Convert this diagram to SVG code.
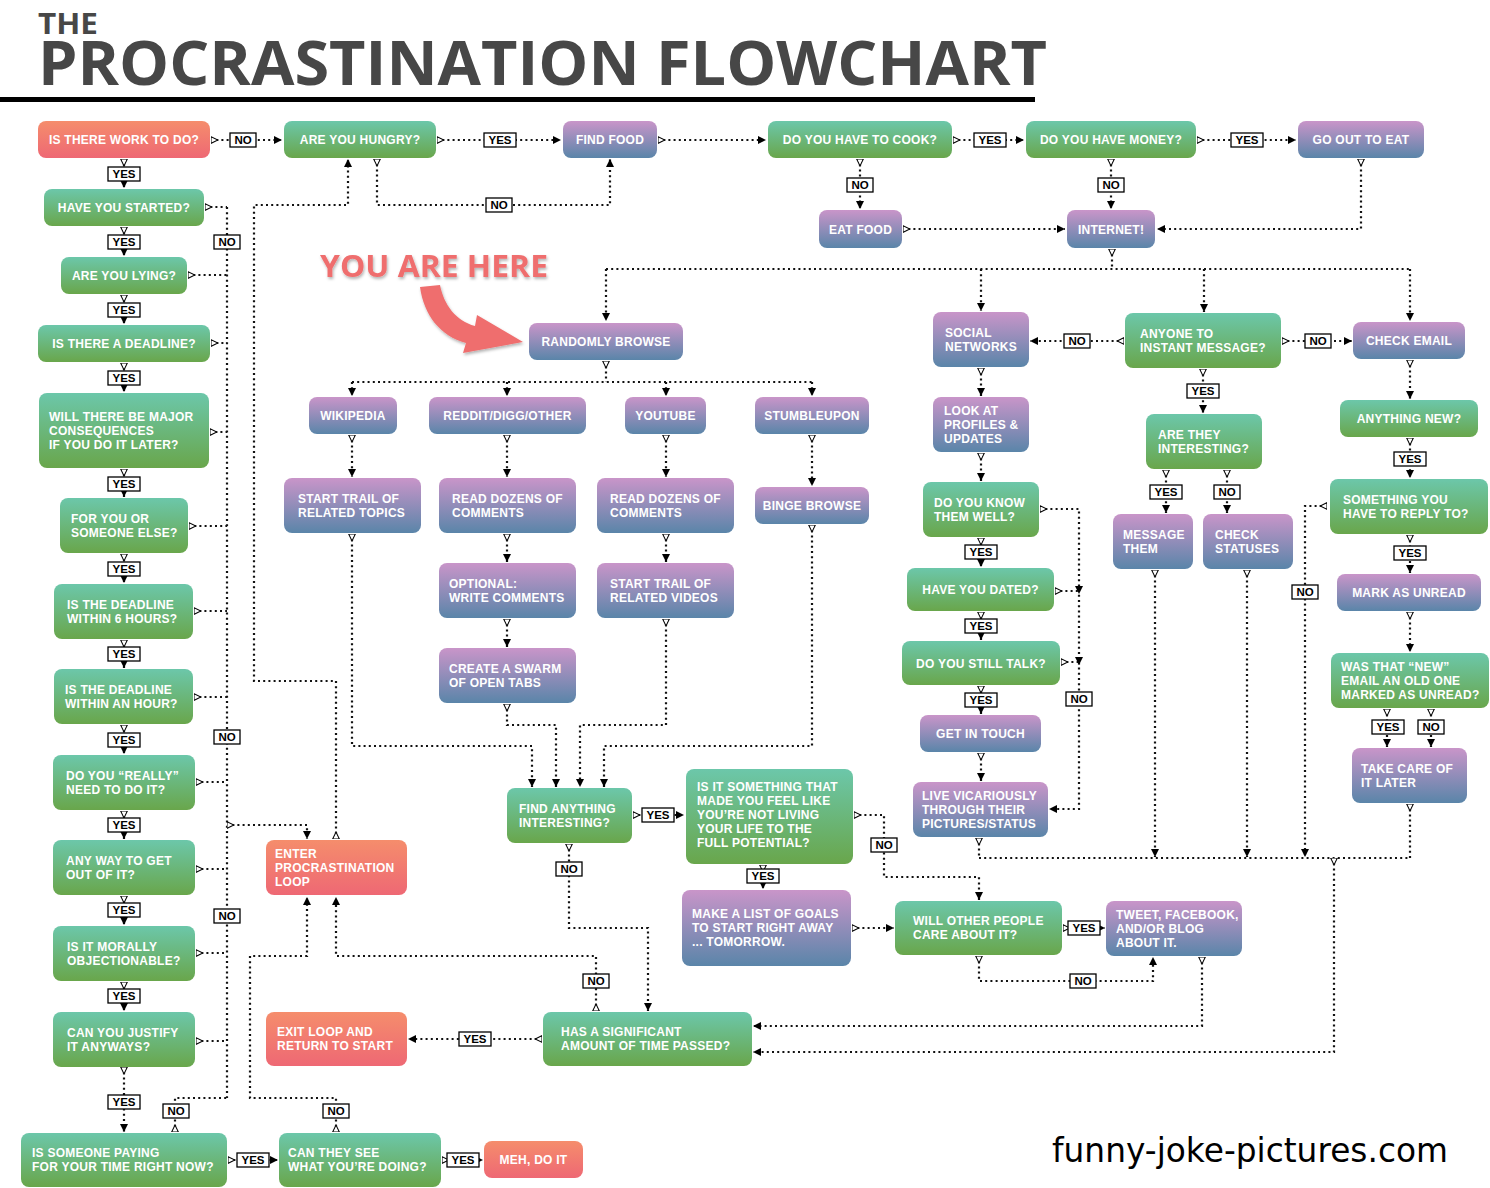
<svg xmlns="http://www.w3.org/2000/svg" width="1490" height="1188" viewBox="0 0 1490 1188">
<defs>
<linearGradient id="gg" x1="0" y1="0" x2="0" y2="1"><stop offset="0" stop-color="#6cc7aa"/><stop offset="1" stop-color="#69a64b"/></linearGradient>
<linearGradient id="gp" x1="0" y1="0" x2="0" y2="1"><stop offset="0" stop-color="#c995c9"/><stop offset="1" stop-color="#5a85a9"/></linearGradient>
<linearGradient id="gr" x1="0" y1="0" x2="0" y2="1"><stop offset="0" stop-color="#f58d6c"/><stop offset="1" stop-color="#ee6874"/></linearGradient>
<marker id="ms" viewBox="0 0 10 10" refX="0.6" refY="5" markerWidth="8" markerHeight="8" markerUnits="userSpaceOnUse" orient="auto"><path d="M0.6,0.8 L9.2,5 L0.6,9.2 Z" fill="#fff" stroke="#000" stroke-width="1.3"/></marker>
<marker id="me" viewBox="0 0 10 10" refX="10" refY="5" markerWidth="8" markerHeight="8" markerUnits="userSpaceOnUse" orient="auto"><path d="M0,0 L10,5 L0,10 Z" fill="#000"/></marker>
<filter id="sh" x="-10%" y="-20%" width="120%" height="150%"><feDropShadow dx="1" dy="2" stdDeviation="1.5" flood-color="#000" flood-opacity="0.3"/></filter>
</defs>
<style>
.G{fill:url(#gg)}.P{fill:url(#gp)}.R{fill:url(#gr)}
.t{font-family:"Liberation Sans",Arial,sans-serif;font-weight:700;font-size:12px;fill:#fff;letter-spacing:0.25px}
.m{text-anchor:middle}
.c{fill:none;stroke:#111;stroke-width:2.2;stroke-dasharray:2 3.2}
.b{marker-start:url(#ms);marker-end:url(#me)}
.s{marker-start:url(#ms)}
.e{marker-end:url(#me)}
.lb rect{fill:#fff;stroke:#000;stroke-width:1.3}
.lb text{font-family:"Liberation Sans",Arial,sans-serif;font-weight:700;font-size:11.5px;text-anchor:middle;fill:#000}
.title{font-family:"Open Sans","DejaVu Sans",sans-serif;font-weight:700;fill:#474747}
</style>
<rect width="1490" height="1188" fill="#fff"/>
<g id="title">
<text class="title" x="38" y="34" font-size="29" textLength="60" lengthAdjust="spacingAndGlyphs">THE</text>
<text class="title" x="38" y="85" font-size="60" textLength="1009" lengthAdjust="spacingAndGlyphs">PROCRASTINATION FLOWCHART</text>
<rect x="0" y="97" width="1035" height="5" fill="#000"/>
</g>
<g id="you-are-here" filter="url(#sh)">
<text x="320" y="277" font-family="'Open Sans','DejaVu Sans',sans-serif" font-weight="700" font-size="31" fill="#ef6e6e" textLength="228" lengthAdjust="spacingAndGlyphs">YOU ARE HERE</text>
<path d="M420 287 C424 315 440 336 466 343 L463 353 L523 342 L477 315 L475 326 C456 321 444 305 440 285 Z" fill="#ef6e6e"/>
</g>
<g id="connectors">
<path class="c b" d="M211 140 H282"/>
<path class="c b" d="M437 140 H561"/>
<path class="c b" d="M658 140 H766"/>
<path class="c b" d="M953 140 H1024"/>
<path class="c b" d="M1197 140 H1296"/>
<path class="c b" d="M377 159 V205 H610 V159"/>
<path class="c b" d="M860 159 V209"/>
<path class="c b" d="M1111 159 V209"/>
<path class="c b" d="M903 229 H1065"/>
<path class="c b" d="M1361 159 V229 H1157"/>
<path class="c s" d="M1112 249 V269"/>
<path class="c" d="M606 269 H1410"/>
<path class="c e" d="M606 269 V321"/>
<path class="c e" d="M981 269 V311"/>
<path class="c e" d="M1204 269 V312"/>
<path class="c e" d="M1410 269 V321"/>
<path class="c s" d="M606 361 V382"/>
<path class="c" d="M352 382 H812"/>
<path class="c e" d="M352 382 V396"/>
<path class="c e" d="M507 382 V396"/>
<path class="c e" d="M666 382 V396"/>
<path class="c e" d="M812 382 V396"/>
<path class="c b" d="M352 435 V477"/>
<path class="c b" d="M507 435 V477"/>
<path class="c b" d="M666 435 V477"/>
<path class="c b" d="M812 435 V486"/>
<path class="c b" d="M507 534 V562"/>
<path class="c b" d="M507 619 V647"/>
<path class="c b" d="M666 534 V562"/>
<path class="c b" d="M352 534 V746 H532 V787"/>
<path class="c b" d="M507 704 V725 H556 V787"/>
<path class="c b" d="M666 619 V725 H580 V787"/>
<path class="c b" d="M812 525 V746 H604 V787"/>
<path class="c b" d="M633 815 H684"/>
<path class="c b" d="M569 844 V928 H648 V1011"/>
<path class="c b" d="M763 865 V889"/>
<path class="c b" d="M854 815 H884 V877 H979 V900"/>
<path class="c b" d="M852 928 H894"/>
<path class="c b" d="M1063 928 H1105"/>
<path class="c b" d="M979 956 V981 H1153 V957"/>
<path class="c b" d="M1202 957 V1026 H753"/>
<path class="c s" d="M979 838 V858"/>
<path class="c s" d="M1410 804 V858"/>
<path class="c" d="M979 858 H1410"/>
<path class="c b" d="M1155 570 V857"/>
<path class="c b" d="M1247 570 V857"/>
<path class="c b" d="M1327 506 H1305 V857"/>
<path class="c b" d="M1334 858 V1052 H753"/>
<path class="c b" d="M1124 341 H1030"/>
<path class="c b" d="M1282 341 H1352"/>
<path class="c b" d="M1203 369 V413"/>
<path class="c b" d="M1166 470 V513"/>
<path class="c b" d="M1227 470 V513"/>
<path class="c b" d="M981 368 V396"/>
<path class="c b" d="M981 453 V481"/>
<path class="c b" d="M981 538 V567"/>
<path class="c b" d="M981 612 V640"/>
<path class="c b" d="M981 686 V714"/>
<path class="c b" d="M981 753 V781"/>
<path class="c b" d="M1040 509 H1079 V809 H1049"/>
<path class="c s" d="M1055 591 H1079"/>
<path class="c s" d="M1061 662 H1079"/>
<polygon points="1075,586 1083,586 1079,594" fill="#000"/>
<polygon points="1075,657 1083,657 1079,665" fill="#000"/>
<path class="c b" d="M1410 360 V399"/>
<path class="c b" d="M1410 438 V478"/>
<path class="c b" d="M1410 535 V573"/>
<path class="c b" d="M1410 612 V652"/>
<path class="c b" d="M1387 709 V747"/>
<path class="c b" d="M1431 709 V747"/>
<path class="c b" d="M124 159 V188"/>
<path class="c b" d="M124 227 V256"/>
<path class="c b" d="M124 295 V324"/>
<path class="c b" d="M124 363 V392"/>
<path class="c b" d="M124 469 V497"/>
<path class="c b" d="M124 554 V583"/>
<path class="c b" d="M124 640 V668"/>
<path class="c b" d="M124 725 V754"/>
<path class="c b" d="M124 811 V839"/>
<path class="c b" d="M124 896 V925"/>
<path class="c b" d="M124 982 V1011"/>
<path class="c b" d="M124 1067 V1132"/>
<path class="c" d="M227 207 V1098"/>
<path class="c s" d="M205 207 H227"/>
<path class="c s" d="M188 275 H227"/>
<path class="c s" d="M211 343 H227"/>
<path class="c s" d="M210 432 H227"/>
<path class="c s" d="M189 526 H227"/>
<path class="c s" d="M194 611 H227"/>
<path class="c s" d="M194 697 H227"/>
<path class="c s" d="M196 782 H227"/>
<path class="c s" d="M196 869 H227"/>
<path class="c s" d="M196 953 H227"/>
<path class="c s" d="M196 1041 H227"/>
<path class="c s" d="M175 1132 V1098 H227"/>
<path class="c b" d="M227 825 H307 V839"/>
<path class="c b" d="M336 839 V681 H254 V205 H348 V159"/>
<path class="c b" d="M596 1011 V956 H336 V897"/>
<path class="c b" d="M336 1132 V1098 H250 V956 H307 V897"/>
<path class="c b" d="M542 1039 H408"/>
<path class="c b" d="M228 1160 H278"/>
<path class="c b" d="M442 1160 H483"/>
<g class="lb">
<rect x="230" y="133" width="26" height="14"/><text x="243" y="144.3">NO</text>
<rect x="484" y="133" width="32" height="14"/><text x="500" y="144.3">YES</text>
<rect x="974" y="133" width="32" height="14"/><text x="990" y="144.3">YES</text>
<rect x="1231" y="133" width="32" height="14"/><text x="1247" y="144.3">YES</text>
<rect x="486" y="198" width="26" height="14"/><text x="499" y="209.3">NO</text>
<rect x="847" y="178" width="26" height="14"/><text x="860" y="189.3">NO</text>
<rect x="1098" y="178" width="26" height="14"/><text x="1111" y="189.3">NO</text>
<rect x="108" y="167" width="32" height="14"/><text x="124" y="178.3">YES</text>
<rect x="108" y="235" width="32" height="14"/><text x="124" y="246.3">YES</text>
<rect x="108" y="303" width="32" height="14"/><text x="124" y="314.3">YES</text>
<rect x="108" y="371" width="32" height="14"/><text x="124" y="382.3">YES</text>
<rect x="108" y="477" width="32" height="14"/><text x="124" y="488.3">YES</text>
<rect x="108" y="562" width="32" height="14"/><text x="124" y="573.3">YES</text>
<rect x="108" y="647" width="32" height="14"/><text x="124" y="658.3">YES</text>
<rect x="108" y="733" width="32" height="14"/><text x="124" y="744.3">YES</text>
<rect x="108" y="818" width="32" height="14"/><text x="124" y="829.3">YES</text>
<rect x="108" y="903" width="32" height="14"/><text x="124" y="914.3">YES</text>
<rect x="108" y="989" width="32" height="14"/><text x="124" y="1000.3">YES</text>
<rect x="108" y="1095" width="32" height="14"/><text x="124" y="1106.3">YES</text>
<rect x="214" y="235" width="26" height="14"/><text x="227" y="246.3">NO</text>
<rect x="214" y="730" width="26" height="14"/><text x="227" y="741.3">NO</text>
<rect x="214" y="909" width="26" height="14"/><text x="227" y="920.3">NO</text>
<rect x="163" y="1104" width="26" height="14"/><text x="176" y="1115.3">NO</text>
<rect x="323" y="1104" width="26" height="14"/><text x="336" y="1115.3">NO</text>
<rect x="583" y="974" width="26" height="14"/><text x="596" y="985.3">NO</text>
<rect x="459" y="1032" width="32" height="14"/><text x="475" y="1043.3">YES</text>
<rect x="237" y="1153" width="32" height="14"/><text x="253" y="1164.3">YES</text>
<rect x="447" y="1153" width="32" height="14"/><text x="463" y="1164.3">YES</text>
<rect x="642" y="808" width="32" height="14"/><text x="658" y="819.3">YES</text>
<rect x="556" y="862" width="26" height="14"/><text x="569" y="873.3">NO</text>
<rect x="747" y="869" width="32" height="14"/><text x="763" y="880.3">YES</text>
<rect x="871" y="838" width="26" height="14"/><text x="884" y="849.3">NO</text>
<rect x="1068" y="921" width="32" height="14"/><text x="1084" y="932.3">YES</text>
<rect x="1070" y="974" width="26" height="14"/><text x="1083" y="985.3">NO</text>
<rect x="1064" y="334" width="26" height="14"/><text x="1077" y="345.3">NO</text>
<rect x="1305" y="334" width="26" height="14"/><text x="1318" y="345.3">NO</text>
<rect x="1187" y="384" width="32" height="14"/><text x="1203" y="395.3">YES</text>
<rect x="1150" y="485" width="32" height="14"/><text x="1166" y="496.3">YES</text>
<rect x="1214" y="485" width="26" height="14"/><text x="1227" y="496.3">NO</text>
<rect x="965" y="545" width="32" height="14"/><text x="981" y="556.3">YES</text>
<rect x="965" y="619" width="32" height="14"/><text x="981" y="630.3">YES</text>
<rect x="965" y="693" width="32" height="14"/><text x="981" y="704.3">YES</text>
<rect x="1066" y="692" width="26" height="14"/><text x="1079" y="703.3">NO</text>
<rect x="1394" y="452" width="32" height="14"/><text x="1410" y="463.3">YES</text>
<rect x="1394" y="546" width="32" height="14"/><text x="1410" y="557.3">YES</text>
<rect x="1292" y="585" width="26" height="14"/><text x="1305" y="596.3">NO</text>
<rect x="1372" y="720" width="32" height="14"/><text x="1388" y="731.3">YES</text>
<rect x="1418" y="720" width="26" height="14"/><text x="1431" y="731.3">NO</text>
</g>
</g>
<g id="n-work"><rect class="R" x="38" y="121" width="172" height="37" rx="8"/><text class="t m" x="124" y="144">IS THERE WORK TO DO?</text></g>
<g id="n-started"><rect class="G" x="44" y="189" width="160" height="37" rx="8"/><text class="t m" x="124" y="212">HAVE YOU STARTED?</text></g>
<g id="n-lying"><rect class="G" x="61" y="257" width="126" height="37" rx="8"/><text class="t m" x="124" y="280">ARE YOU LYING?</text></g>
<g id="n-deadline"><rect class="G" x="38" y="325" width="172" height="37" rx="8"/><text class="t m" x="124" y="348">IS THERE A DEADLINE?</text></g>
<g id="n-consequences"><rect class="G" x="39" y="393" width="170" height="75" rx="8"/><text class="t"><tspan x="49" y="420.5">WILL THERE BE MAJOR</tspan><tspan x="49" y="434.5">CONSEQUENCES</tspan><tspan x="49" y="448.5">IF YOU DO IT LATER?</tspan></text></g>
<g id="n-foryou"><rect class="G" x="60" y="498" width="128" height="55" rx="8"/><text class="t"><tspan x="71" y="522.5">FOR YOU OR</tspan><tspan x="71" y="536.5">SOMEONE ELSE?</tspan></text></g>
<g id="n-within6"><rect class="G" x="54" y="584" width="139" height="55" rx="8"/><text class="t"><tspan x="67" y="608.5">IS THE DEADLINE</tspan><tspan x="67" y="622.5">WITHIN 6 HOURS?</tspan></text></g>
<g id="n-withinhour"><rect class="G" x="54" y="669" width="139" height="55" rx="8"/><text class="t"><tspan x="65" y="693.5">IS THE DEADLINE</tspan><tspan x="65" y="707.5">WITHIN AN HOUR?</tspan></text></g>
<g id="n-really"><rect class="G" x="53" y="755" width="142" height="55" rx="8"/><text class="t"><tspan x="66" y="779.5">DO YOU “REALLY”</tspan><tspan x="66" y="793.5">NEED TO DO IT?</tspan></text></g>
<g id="n-getout"><rect class="G" x="53" y="840" width="142" height="55" rx="8"/><text class="t"><tspan x="66" y="864.5">ANY WAY TO GET</tspan><tspan x="66" y="878.5">OUT OF IT?</tspan></text></g>
<g id="n-morally"><rect class="G" x="53" y="926" width="142" height="55" rx="8"/><text class="t"><tspan x="67" y="950.5">IS IT MORALLY</tspan><tspan x="67" y="964.5">OBJECTIONABLE?</tspan></text></g>
<g id="n-justify"><rect class="G" x="53" y="1012" width="142" height="55" rx="8"/><text class="t"><tspan x="67" y="1036.5">CAN YOU JUSTIFY</tspan><tspan x="67" y="1050.5">IT ANYWAYS?</tspan></text></g>
<g id="n-paying"><rect class="G" x="21" y="1133" width="206" height="54" rx="8"/><text class="t"><tspan x="32" y="1157">IS SOMEONE PAYING</tspan><tspan x="32" y="1171">FOR YOUR TIME RIGHT NOW?</tspan></text></g>
<g id="n-hungry"><rect class="G" x="284" y="121" width="152" height="37" rx="8"/><text class="t m" x="360" y="144">ARE YOU HUNGRY?</text></g>
<g id="n-findfood"><rect class="P" x="563" y="121" width="94" height="37" rx="8"/><text class="t m" x="610" y="144">FIND FOOD</text></g>
<g id="n-cook"><rect class="G" x="768" y="121" width="184" height="37" rx="8"/><text class="t m" x="860" y="144">DO YOU HAVE TO COOK?</text></g>
<g id="n-money"><rect class="G" x="1026" y="121" width="170" height="37" rx="8"/><text class="t m" x="1111" y="144">DO YOU HAVE MONEY?</text></g>
<g id="n-goout"><rect class="P" x="1298" y="121" width="126" height="37" rx="8"/><text class="t m" x="1361" y="144">GO OUT TO EAT</text></g>
<g id="n-eatfood"><rect class="P" x="819" y="210" width="83" height="38" rx="8"/><text class="t m" x="860.5" y="233.5">EAT FOOD</text></g>
<g id="n-internet"><rect class="P" x="1067" y="210" width="88" height="38" rx="8"/><text class="t m" x="1111" y="233.5">INTERNET!</text></g>
<g id="n-browse"><rect class="P" x="529" y="323" width="154" height="37" rx="8"/><text class="t m" x="606" y="346">RANDOMLY BROWSE</text></g>
<g id="n-wikipedia"><rect class="P" x="309" y="397" width="88" height="37" rx="8"/><text class="t m" x="353" y="420">WIKIPEDIA</text></g>
<g id="n-reddit"><rect class="P" x="429" y="397" width="157" height="37" rx="8"/><text class="t m" x="507.5" y="420">REDDIT/DIGG/OTHER</text></g>
<g id="n-youtube"><rect class="P" x="625" y="397" width="81" height="37" rx="8"/><text class="t m" x="665.5" y="420">YOUTUBE</text></g>
<g id="n-stumble"><rect class="P" x="755" y="397" width="114" height="37" rx="8"/><text class="t m" x="812" y="420">STUMBLEUPON</text></g>
<g id="n-trailtopics"><rect class="P" x="284" y="478" width="137" height="55" rx="8"/><text class="t"><tspan x="298" y="502.5">START TRAIL OF</tspan><tspan x="298" y="516.5">RELATED TOPICS</tspan></text></g>
<g id="n-readreddit"><rect class="P" x="439" y="478" width="137" height="55" rx="8"/><text class="t"><tspan x="452" y="502.5">READ DOZENS OF</tspan><tspan x="452" y="516.5">COMMENTS</tspan></text></g>
<g id="n-readyt"><rect class="P" x="597" y="478" width="137" height="55" rx="8"/><text class="t"><tspan x="610" y="502.5">READ DOZENS OF</tspan><tspan x="610" y="516.5">COMMENTS</tspan></text></g>
<g id="n-binge"><rect class="P" x="755" y="487" width="114" height="37" rx="8"/><text class="t m" x="812" y="510">BINGE BROWSE</text></g>
<g id="n-optional"><rect class="P" x="439" y="563" width="137" height="55" rx="8"/><text class="t"><tspan x="449" y="587.5">OPTIONAL:</tspan><tspan x="449" y="601.5">WRITE COMMENTS</tspan></text></g>
<g id="n-trailvideos"><rect class="P" x="597" y="563" width="137" height="55" rx="8"/><text class="t"><tspan x="610" y="587.5">START TRAIL OF</tspan><tspan x="610" y="601.5">RELATED VIDEOS</tspan></text></g>
<g id="n-swarm"><rect class="P" x="439" y="648" width="137" height="55" rx="8"/><text class="t"><tspan x="449" y="672.5">CREATE A SWARM</tspan><tspan x="449" y="686.5">OF OPEN TABS</tspan></text></g>
<g id="n-enterloop"><rect class="R" x="266" y="840" width="141" height="55" rx="8"/><text class="t"><tspan x="275" y="857.5">ENTER</tspan><tspan x="275" y="871.5">PROCRASTINATION</tspan><tspan x="275" y="885.5">LOOP</tspan></text></g>
<g id="n-exitloop"><rect class="R" x="266" y="1012" width="141" height="54" rx="8"/><text class="t"><tspan x="277" y="1036">EXIT LOOP AND</tspan><tspan x="277" y="1050">RETURN TO START</tspan></text></g>
<g id="n-cansee"><rect class="G" x="279" y="1133" width="162" height="54" rx="8"/><text class="t"><tspan x="288" y="1157">CAN THEY SEE</tspan><tspan x="288" y="1171">WHAT YOU’RE DOING?</tspan></text></g>
<g id="n-meh"><rect class="R" x="484" y="1141" width="99" height="37" rx="8"/><text class="t m" x="533.5" y="1164">MEH, DO IT</text></g>
<g id="n-hassig"><rect class="G" x="543" y="1012" width="209" height="54" rx="8"/><text class="t"><tspan x="561" y="1036">HAS A SIGNIFICANT</tspan><tspan x="561" y="1050">AMOUNT OF TIME PASSED?</tspan></text></g>
<g id="n-findany"><rect class="G" x="507" y="788" width="125" height="55" rx="8"/><text class="t"><tspan x="519" y="812.5">FIND ANYTHING</tspan><tspan x="519" y="826.5">INTERESTING?</tspan></text></g>
<g id="n-isit"><rect class="G" x="686" y="769" width="167" height="95" rx="8"/><text class="t"><tspan x="697" y="791">IS IT SOMETHING THAT</tspan><tspan x="697" y="805">MADE YOU FEEL LIKE</tspan><tspan x="697" y="819">YOU’RE NOT LIVING</tspan><tspan x="697" y="833">YOUR LIFE TO THE</tspan><tspan x="697" y="847">FULL POTENTIAL?</tspan></text></g>
<g id="n-makelist"><rect class="P" x="682" y="890" width="169" height="76" rx="8"/><text class="t"><tspan x="692" y="918">MAKE A LIST OF GOALS</tspan><tspan x="692" y="932">TO START RIGHT AWAY</tspan><tspan x="692" y="946">... TOMORROW.</tspan></text></g>
<g id="n-willother"><rect class="G" x="895" y="901" width="167" height="54" rx="8"/><text class="t"><tspan x="913" y="925">WILL OTHER PEOPLE</tspan><tspan x="913" y="939">CARE ABOUT IT?</tspan></text></g>
<g id="n-tweet"><rect class="P" x="1106" y="901" width="136" height="55" rx="8"/><text class="t"><tspan x="1116" y="918.5">TWEET, FACEBOOK,</tspan><tspan x="1116" y="932.5">AND/OR BLOG</tspan><tspan x="1116" y="946.5">ABOUT IT.</tspan></text></g>
<g id="n-social"><rect class="P" x="933" y="312" width="96" height="55" rx="8"/><text class="t"><tspan x="945" y="336.5">SOCIAL</tspan><tspan x="945" y="350.5">NETWORKS</tspan></text></g>
<g id="n-look"><rect class="P" x="933" y="397" width="96" height="55" rx="8"/><text class="t"><tspan x="944" y="414.5">LOOK AT</tspan><tspan x="944" y="428.5">PROFILES &amp;</tspan><tspan x="944" y="442.5">UPDATES</tspan></text></g>
<g id="n-knowwell"><rect class="G" x="923" y="482" width="116" height="55" rx="8"/><text class="t"><tspan x="934" y="506.5">DO YOU KNOW</tspan><tspan x="934" y="520.5">THEM WELL?</tspan></text></g>
<g id="n-dated"><rect class="G" x="907" y="568" width="147" height="43" rx="8"/><text class="t m" x="980.5" y="594">HAVE YOU DATED?</text></g>
<g id="n-stilltalk"><rect class="G" x="902" y="641" width="158" height="44" rx="8"/><text class="t m" x="981" y="667.5">DO YOU STILL TALK?</text></g>
<g id="n-getintouch"><rect class="P" x="920" y="715" width="121" height="37" rx="8"/><text class="t m" x="980.5" y="738">GET IN TOUCH</text></g>
<g id="n-live"><rect class="P" x="913" y="782" width="135" height="55" rx="8"/><text class="t"><tspan x="922" y="799.5">LIVE VICARIOUSLY</tspan><tspan x="922" y="813.5">THROUGH THEIR</tspan><tspan x="922" y="827.5">PICTURES/STATUS</tspan></text></g>
<g id="n-anyone"><rect class="G" x="1125" y="313" width="156" height="55" rx="8"/><text class="t"><tspan x="1140" y="337.5">ANYONE TO</tspan><tspan x="1140" y="351.5">INSTANT MESSAGE?</tspan></text></g>
<g id="n-arethey"><rect class="G" x="1146" y="414" width="116" height="55" rx="8"/><text class="t"><tspan x="1158" y="438.5">ARE THEY</tspan><tspan x="1158" y="452.5">INTERESTING?</tspan></text></g>
<g id="n-message"><rect class="P" x="1113" y="514" width="80" height="55" rx="8"/><text class="t"><tspan x="1123" y="538.5">MESSAGE</tspan><tspan x="1123" y="552.5">THEM</tspan></text></g>
<g id="n-statuses"><rect class="P" x="1203" y="514" width="90" height="55" rx="8"/><text class="t"><tspan x="1215" y="538.5">CHECK</tspan><tspan x="1215" y="552.5">STATUSES</tspan></text></g>
<g id="n-checkemail"><rect class="P" x="1353" y="322" width="112" height="37" rx="8"/><text class="t m" x="1409" y="345">CHECK EMAIL</text></g>
<g id="n-anything"><rect class="G" x="1340" y="400" width="138" height="37" rx="8"/><text class="t m" x="1409" y="423">ANYTHING NEW?</text></g>
<g id="n-something"><rect class="G" x="1330" y="479" width="158" height="55" rx="8"/><text class="t"><tspan x="1343" y="503.5">SOMETHING YOU</tspan><tspan x="1343" y="517.5">HAVE TO REPLY TO?</tspan></text></g>
<g id="n-markunread"><rect class="P" x="1337" y="574" width="144" height="37" rx="8"/><text class="t m" x="1409" y="597">MARK AS UNREAD</text></g>
<g id="n-wasthat"><rect class="G" x="1331" y="653" width="158" height="55" rx="8"/><text class="t"><tspan x="1341" y="670.5">WAS THAT “NEW”</tspan><tspan x="1341" y="684.5">EMAIL AN OLD ONE</tspan><tspan x="1341" y="698.5">MARKED AS UNREAD?</tspan></text></g>
<g id="n-takecare"><rect class="P" x="1352" y="748" width="115" height="55" rx="8"/><text class="t"><tspan x="1361" y="772.5">TAKE CARE OF</tspan><tspan x="1361" y="786.5">IT LATER</tspan></text></g>
<text x="1052" y="1162" font-family="'DejaVu Sans',sans-serif" font-size="33" fill="#000" textLength="396" lengthAdjust="spacingAndGlyphs">funny-joke-pictures.com</text>
</svg>
